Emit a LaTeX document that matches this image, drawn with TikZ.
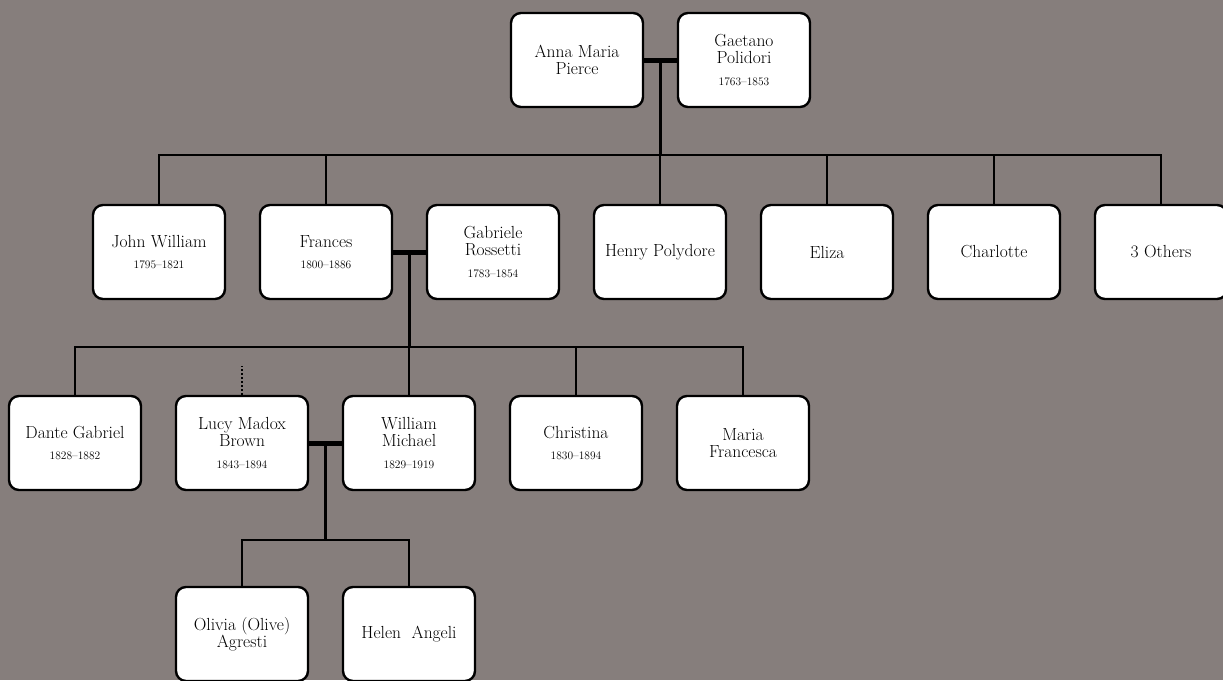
\documentclass[tikz,border=0pt]{standalone}
\usetikzlibrary{calc}
\definecolor{bg}{RGB}{134,126,124}
\tikzset{
  person/.style={draw=black, fill=white, line width=2.4pt, rounded corners=10pt,
    minimum width=132pt, minimum height=94pt, align=center, inner sep=0pt,
    font=\fontsize{17.5}{17.5}\selectfont},
  link/.style={line width=2.5pt},
  marriage/.style={line width=5pt},
  dotlink/.style={line width=2pt, dotted},
}
\newcommand{\yrs}[1]{\\[4pt]{\fontsize{11.5}{12}\selectfont #1}}
\begin{document}
\begin{tikzpicture}[x=1pt,y=-1pt]
\fill[bg] (0,0) rectangle (1223,680);
\useasboundingbox (0,0) rectangle (1223,680);
\clip (0,0) rectangle (1223,680);
% row 1
\node[person] (anna) at (577,60) {Anna Maria\\Pierce};
\node[person] (gaetano) at (744,60) {Gaetano\\Polidori\yrs{1763--1853}};
% row 2
\node[person] (john) at (159,252) {John William\yrs{1795--1821}};
\node[person] (frances) at (326,252) {Frances\yrs{1800--1886}};
\node[person] (gabriele) at (493,252) {Gabriele\\Rossetti\yrs{1783--1854}};
\node[person] (henry) at (660,252) {Henry Polydore};
\node[person] (eliza) at (827,252) {Eliza};
\node[person] (charlotte) at (994,252) {Charlotte};
\node[person] (others) at (1161,252) {3 Others};
% row 3
\node[person] (dante) at (75,443) {Dante Gabriel\yrs{1828--1882}};
\node[person] (lucy) at (242,443) {Lucy Madox\\Brown\yrs{1843--1894}};
\node[person] (william) at (409,443) {William\\Michael\yrs{1829--1919}};
\node[person] (christina) at (576,443) {Christina\yrs{1830--1894}};
\node[person] (maria) at (743,443) {Maria\\Francesca};
% row 4
\node[person] (olivia) at (242,634) {Olivia (Olive)\\Agresti};
\node[person] (helen) at (409,634) {Helen~ Angeli};
% marriages and buses
\coordinate (m1) at ($(anna.east)!0.5!(gaetano.west)$);
\coordinate (bus1) at (m1 |- 0,155);
\coordinate (m2) at ($(frances.east)!0.5!(gabriele.west)$);
\coordinate (bus2) at (m2 |- 0,347);
\coordinate (m3) at ($(lucy.east)!0.5!(william.west)$);
\coordinate (bus3) at (m3 |- 0,540);
\coordinate (lucyup) at (lucy.north |- 0,366);
\draw[marriage] (anna.east) -- (gaetano.west);
\draw[marriage] (frances.east) -- (gabriele.west);
\draw[marriage] (lucy.east) -- (william.west);
\draw[link] (m1) -- (bus1);
\draw[link] (m2) -- (bus2);
\draw[link] (m3) -- (bus3);
% gen 2
\draw[link] (john.north) -- (john.north |- bus1) -- (others.north |- bus1) -- (others.north);
\foreach \c in {frances,henry,eliza,charlotte}
  \draw[link] (\c.north) -- (\c.north |- bus1);
% gen 3
\draw[link] (dante.north) -- (dante.north |- bus2) -- (maria.north |- bus2) -- (maria.north);
\foreach \c in {william,christina}
  \draw[link] (\c.north) -- (\c.north |- bus2);
\draw[dotlink] (lucy.north) -- (lucyup);
% gen 4
\draw[link] (olivia.north) -- (olivia.north |- bus3) -- (helen.north |- bus3) -- (helen.north);
\end{tikzpicture}
\end{document}
